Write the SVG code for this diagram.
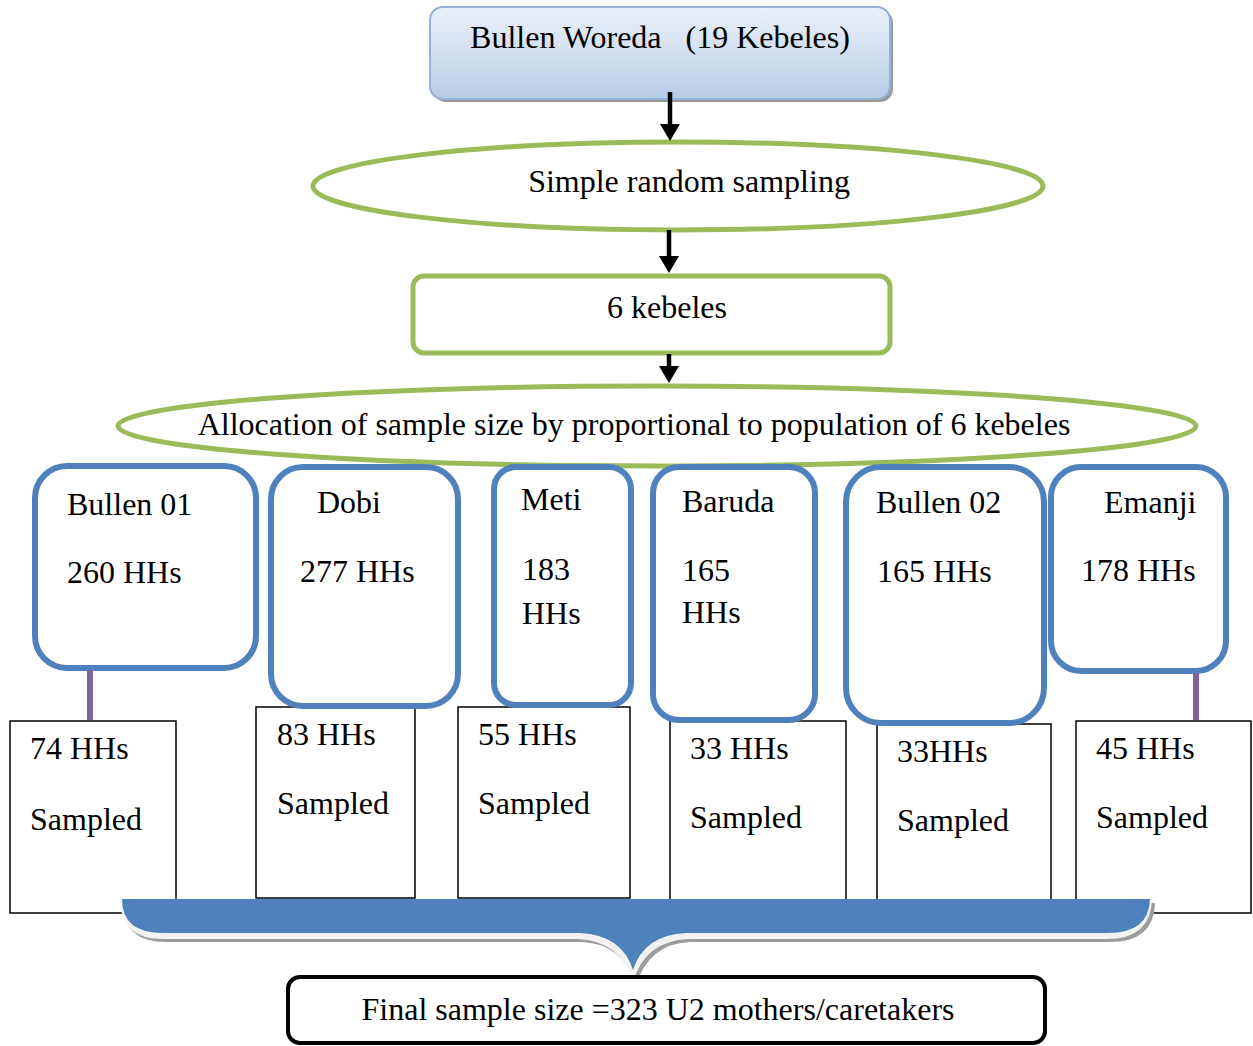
<svg xmlns="http://www.w3.org/2000/svg" width="1253" height="1046" viewBox="0 0 1253 1046">
<defs>
<linearGradient id="topGrad" x1="0" y1="0" x2="0" y2="1">
<stop offset="0" stop-color="#eaf0f9"/>
<stop offset="0.5" stop-color="#d3dff0"/>
<stop offset="1" stop-color="#b9cce6"/>
</linearGradient>
<style>
text{font-family:"Liberation Serif","Times New Roman",serif;font-size:32px;fill:#000}
.green{fill:#fff;stroke:#9bbb59;stroke-width:5}
.keb{fill:#fff;stroke:#4f81bd;stroke-width:6}
.samp{fill:#fff;stroke:#000;stroke-width:1.5}
.arrow{stroke:#000;stroke-width:4.5;fill:none}
.purple{stroke:#8064a2;stroke-width:6}
.mid{text-anchor:middle}
</style>
</defs>
<rect width="1253" height="1046" fill="#fff"/>

<g id="top">
<rect x="433" y="10" width="460" height="92" rx="13" fill="#9a9a9a"/>
<rect x="430" y="7" width="460" height="92" rx="13" fill="url(#topGrad)" stroke="#95b3d7" stroke-width="2"/>
<text x="660" y="48" class="mid" xml:space="preserve">Bullen Woreda   (19 Kebeles)</text>
</g>

<g id="srs">
<ellipse cx="678" cy="186" rx="365" ry="44" class="green"/>
<text x="689" y="192" class="mid">Simple random sampling</text>
</g>

<g id="six">
<rect x="413" y="276" width="477" height="77" rx="11" class="green"/>
<text x="667" y="318" class="mid">6 kebeles</text>
</g>

<g id="alloc">
<ellipse cx="657" cy="426" rx="539" ry="40" class="green"/>
<text x="634" y="435" class="mid">Allocation of sample size by proportional to population of 6 kebeles</text>
</g>

<g id="s1"><rect x="10" y="721" width="166" height="192" class="samp"/>
<text x="30" y="759">74 HHs</text><text x="30" y="830">Sampled</text></g>
<g id="s2"><rect x="256" y="707" width="159" height="191" class="samp"/>
<text x="277" y="745">83 HHs</text><text x="277" y="814">Sampled</text></g>
<g id="s3"><rect x="458" y="707" width="172" height="191" class="samp"/>
<text x="478" y="745">55 HHs</text><text x="478" y="814">Sampled</text></g>
<g id="s4"><rect x="670" y="721" width="176" height="192" class="samp"/>
<text x="690" y="759">33 HHs</text><text x="690" y="828">Sampled</text></g>
<g id="s5"><rect x="877" y="724" width="174" height="189" class="samp"/>
<text x="897" y="762">33HHs</text><text x="897" y="831">Sampled</text></g>
<g id="s6"><rect x="1076" y="721" width="175" height="192" class="samp"/>
<text x="1096" y="759">45 HHs</text><text x="1096" y="828">Sampled</text></g>

<g id="k1"><rect x="35" y="466" width="221" height="202" rx="32" class="keb"/>
<text x="67" y="515">Bullen 01</text><text x="67" y="583">260 HHs</text></g>
<g id="k2"><rect x="271" y="467" width="187" height="239" rx="32" class="keb"/>
<text x="317" y="513">Dobi</text><text x="300" y="582">277 HHs</text></g>
<g id="k3"><rect x="494" y="467" width="137" height="238" rx="22" class="keb"/>
<text x="521" y="510">Meti</text><text x="522" y="580">183</text><text x="522" y="624">HHs</text></g>
<g id="k4"><rect x="653" y="467" width="162" height="253" rx="26" class="keb"/>
<text x="682" y="512">Baruda</text><text x="682" y="581">165</text><text x="682" y="623">HHs</text></g>
<g id="k5"><rect x="846" y="467" width="198" height="256" rx="35" class="keb"/>
<text x="876" y="513">Bullen 02</text><text x="877" y="582">165 HHs</text></g>
<g id="k6"><rect x="1051" y="467" width="175" height="204" rx="30" class="keb"/>
<text x="1104" y="513">Emanji</text><text x="1081" y="581">178 HHs</text></g>

<g id="brace">
<path d="M123,903 L1155,903 Q1154,942 1110,942 L690,942 Q648,944 636,986 Q624,944 582,942 L166,942 Q123,942 123,903 Z" fill="#9c9c9c"/>
<path d="M120,899 L1152,899 Q1151,939 1107,939 L688,939 Q645,941 633,982 Q621,941 578,939 L163,939 Q120,939 120,899 Z" fill="#f2f2f2"/>
<path d="M122,899 L1150,899 Q1149,933 1108,933 L686,933 Q644,935 633,970 Q622,935 580,933 L163,933 Q122,933 122,899 Z" fill="#4f81bd"/>
</g>

<g id="final">
<rect x="288" y="977" width="757" height="66" rx="12" fill="#fff" stroke="#000" stroke-width="4"/>
<text x="658" y="1020" class="mid">Final sample size =323 U2 mothers/caretakers</text>
</g>

<g id="connectors">
<line class="arrow" x1="670" y1="92" x2="670" y2="126"/>
<path d="M660,124 L680,124 L670,141 Z" fill="#000"/>
<line class="arrow" x1="669" y1="230" x2="669" y2="258"/>
<path d="M659,256 L679,256 L669,273 Z" fill="#000"/>
<line class="arrow" x1="669" y1="354" x2="669" y2="368"/>
<path d="M659,366 L679,366 L669,383 Z" fill="#000"/>
<line class="purple" x1="90" y1="670" x2="90" y2="720"/>
<line class="purple" x1="1196" y1="673" x2="1196" y2="720"/>
</g>
</svg>
